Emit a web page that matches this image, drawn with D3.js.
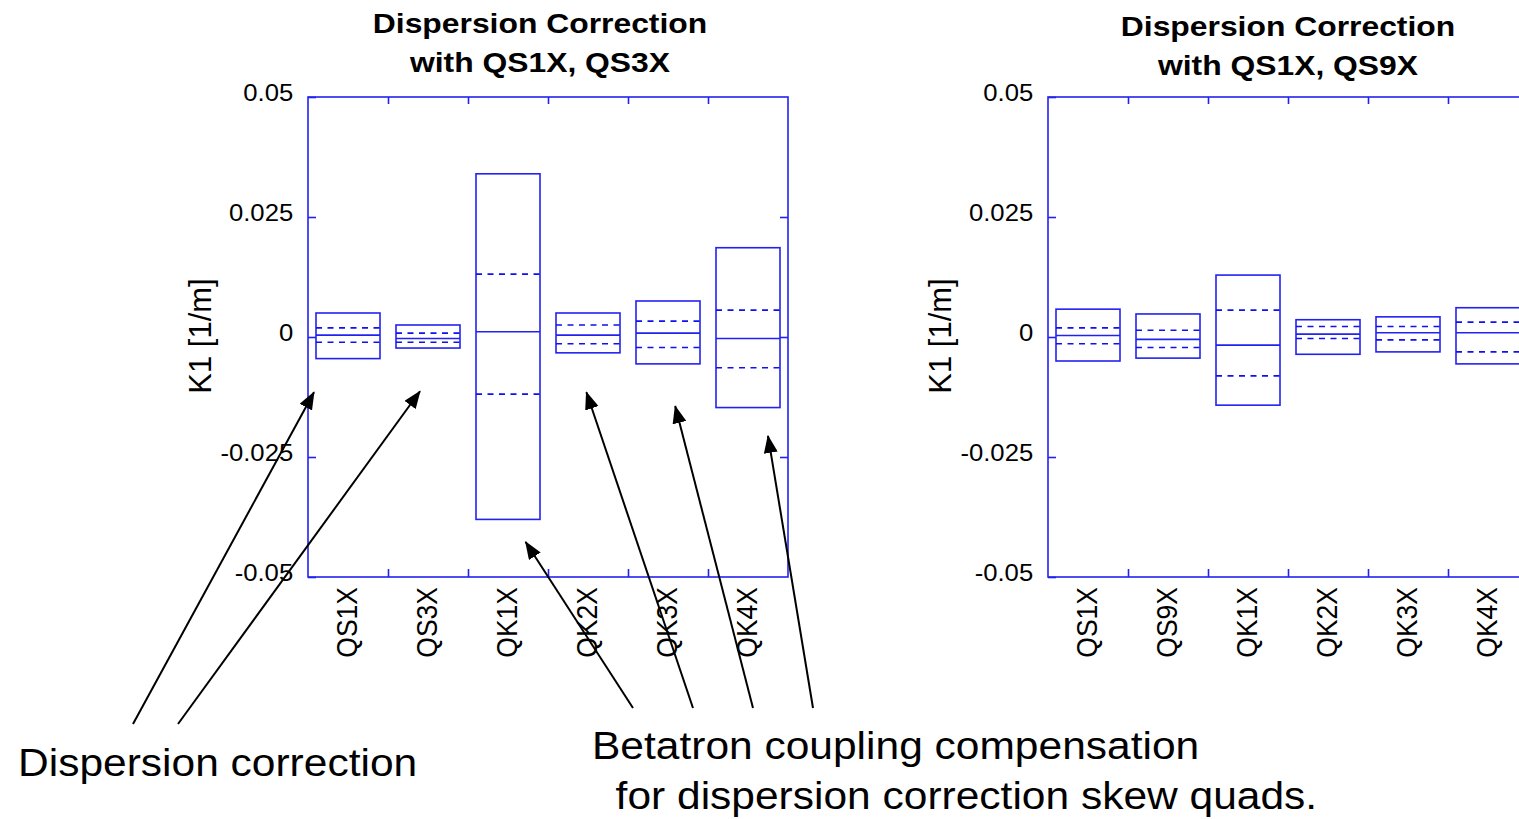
<!DOCTYPE html>
<html>
<head>
<meta charset="utf-8">
<script src="https://cdn.jsdelivr.net/npm/d3@7"></script>
<style>
  html, body { margin: 0; padding: 0; background: #ffffff; overflow: hidden; }
  svg { display: block; }
  text { font-family: "Liberation Sans", Arial, Helvetica, sans-serif; fill: #000; }
</style>
</head>
<body>
<div id="chart"></div>
<script>
// ---------------- DATA ----------------
const leftTitle = ["Dispersion Correction", "with QS1X, QS3X"];
const leftCats  = ["QS1X", "QS3X", "QK1X", "QK2X", "QK3X", "QK4X"];
const leftMax   = [0.0050, 0.0025, 0.0340, 0.0050, 0.0075, 0.0186];
const leftUpper = [0.0019, 0.0008, 0.0131, 0.0025, 0.0033, 0.0056];
const leftMid   = [0.0004, -0.0003, 0.0011, 0.0004, 0.0008, -0.0003];
const leftLower = [-0.0011, -0.0011, -0.0119, -0.0014, -0.0022, -0.0064];
const leftMin   = [-0.0045, -0.0023, -0.0380, -0.0033, -0.0056, -0.0147];

const rightTitle = ["Dispersion Correction", "with QS1X, QS9X"];
const rightCats  = ["QS1X", "QS9X", "QK1X", "QK2X", "QK3X", "QK4X"];
const rightMax   = [0.0058, 0.0048, 0.0129, 0.0036, 0.0042, 0.0061];
const rightUpper = [0.0019, 0.0014, 0.0056, 0.0022, 0.0022, 0.0031];
const rightMid   = [0.0003, -0.0005, -0.0017, 0.0006, 0.0009, 0.0009];
const rightLower = [-0.0014, -0.0022, -0.0081, -0.0003, -0.0006, -0.0031];
const rightMin   = [-0.0050, -0.0044, -0.0142, -0.0036, -0.0031, -0.0056];

const yDomain     = [-0.05, 0.05];
const yTickValues = [0.05, 0.025, 0, -0.025, -0.05];
const yTickLabels = ["0.05", "0.025", "0", "-0.025", "-0.05"];
const yLabel      = "K1 [1/m]";

// annotation arrows: target = (chart, category, fraction across band, value)
const arrowChart = ["L", "L", "L", "L", "L", "L"];
const arrowCat   = ["QS1X", "QS3X", "QK1X", "QK2X", "QK3X", "QK4X"];
const arrowFrac  = [0.075, 0.40, 0.72, 0.48, 0.59, 0.75];
const arrowVal   = [-0.0115, -0.0113, -0.0427, -0.0115, -0.0144, -0.0206];
const arrowGroup = [0, 0, 1, 1, 1, 1];
const noteLines  = [["Dispersion correction"],
                    ["Betatron coupling compensation", "  for dispersion correction skew quads."]];

// ---------------- LAYOUT ----------------
const W = 1519, H = 819;
const blue = "#2222f0";
const FONT = '"Liberation Sans", Arial, Helvetica, sans-serif';

const svg = d3.select("#chart").append("svg")
  .attr("width", W).attr("height", H)
  .attr("viewBox", `0 0 ${W} ${H}`);

svg.append("defs").append("marker")
  .attr("id", "ahead")
  .attr("markerUnits", "userSpaceOnUse")
  .attr("viewBox", "0 0 18 14")
  .attr("markerWidth", 18).attr("markerHeight", 14)
  .attr("refX", 17).attr("refY", 7)
  .attr("orient", "auto")
  .append("path").attr("d", "M0,0 L18,7 L0,14 Z").attr("fill", "#000");

function stretchedText(g, x, y, str, size, sx, weight, anchor) {
  return g.append("text")
    .attr("transform", `translate(${x},${y}) scale(${sx},1)`)
    .attr("text-anchor", anchor || "start")
    .style("font-size", size + "px")
    .style("font-weight", weight || "normal")
    .text(str);
}

const charts = [
  { id: "L", left: 308, title: leftTitle, titleDx: -8, titleY: 33, cats: leftCats,
    max: leftMax, up: leftUpper, mid: leftMid, lo: leftLower, min: leftMin, labelX: 211 },
  { id: "R", left: 1048, title: rightTitle, titleDx: 0, titleY: 36, cats: rightCats,
    max: rightMax, up: rightUpper, mid: rightMid, lo: rightLower, min: rightMin, labelX: 951 }
];
const plotW = 480, plotTop = 97, plotBottom = 577;
const scales = {};

charts.forEach(c => {
  const x0 = c.left, x1 = c.left + plotW;
  const y = d3.scaleLinear().domain(yDomain).range([plotBottom, plotTop]);
  const xb = d3.scaleBand().domain(c.cats).range([x0, x1]).padding(0);
  const xi = d3.scaleLinear().domain([0, c.cats.length]).range([x0, x1]);
  scales[c.id] = { y, xb };
  const g = svg.append("g");

  // title
  const tcx = (x0 + x1) / 2 + c.titleDx;
  stretchedText(g, tcx, c.titleY, c.title[0], 27, 1.18, "bold", "middle");
  stretchedText(g, tcx, c.titleY + 39, c.title[1], 27, 1.18, "bold", "middle");

  // left axis (ticks inward)
  const ax = g.append("g").attr("transform", `translate(${x0},0)`)
    .call(d3.axisLeft(y).tickValues(yTickValues)
      .tickFormat((d, i) => yTickLabels[i])
      .tickSizeInner(-8).tickSizeOuter(0).tickPadding(13));
  ax.select(".domain").remove();
  ax.selectAll(".tick line").attr("stroke", blue).attr("stroke-width", 1.6);
  ax.selectAll(".tick text")
    .attr("dy", "0.16em")
    .style("font-size", "24px").style("font-family", FONT).attr("fill", "#000")
    .attr("transform", function () {
      const xx = +d3.select(this).attr("x");
      return `translate(${xx * 0.07},0) scale(1.07,1)`;
    });

  // right axis (ticks inward)
  const axr = g.append("g").attr("transform", `translate(${x1},0)`)
    .call(d3.axisRight(y).tickValues([0.025, 0, -0.025])
      .tickFormat("").tickSizeInner(-8).tickSizeOuter(0));
  axr.select(".domain").remove();
  axr.selectAll(".tick line").attr("stroke", blue).attr("stroke-width", 1.6);

  // top & bottom ticks at band boundaries
  const bnd = d3.range(1, c.cats.length);
  const axt = g.append("g").attr("transform", `translate(0,${plotTop})`)
    .call(d3.axisTop(xi).tickValues(bnd).tickFormat("").tickSizeInner(-7).tickSizeOuter(0));
  axt.select(".domain").remove();
  axt.selectAll(".tick line").attr("stroke", blue).attr("stroke-width", 1.6);
  const axb = g.append("g").attr("transform", `translate(0,${plotBottom})`)
    .call(d3.axisBottom(xi).tickValues(bnd).tickFormat("").tickSizeInner(-8).tickSizeOuter(0));
  axb.select(".domain").remove();
  axb.selectAll(".tick line").attr("stroke", blue).attr("stroke-width", 1.6);

  // category labels (rotated)
  const axc = g.append("g").attr("transform", `translate(0,${plotBottom})`)
    .call(d3.axisBottom(xb).tickSize(0).tickPadding(0));
  axc.select(".domain").remove();
  axc.selectAll(".tick text")
    .attr("x", 0).attr("y", 0).attr("dy", 0)
    .attr("text-anchor", "end")
    .attr("transform", "translate(9,10) rotate(-90) scale(1,1.08)")
    .style("font-size", "26.5px").style("font-family", FONT).attr("fill", "#000");

  // plot frame
  g.append("rect").attr("x", x0).attr("y", plotTop)
    .attr("width", plotW).attr("height", plotBottom - plotTop)
    .attr("fill", "none").attr("stroke", blue).attr("stroke-width", 1.6);

  // y label
  g.append("text")
    .attr("transform", `translate(${c.labelX},${(plotTop + plotBottom) / 2 - 1}) rotate(-90)`)
    .attr("text-anchor", "middle")
    .style("font-size", "31px")
    .text(yLabel);

  // boxes
  const bw = xb.bandwidth() * 0.8;
  const data = c.cats.map((k, i) => ({ k, max: c.max[i], up: c.up[i], mid: c.mid[i], lo: c.lo[i], min: c.min[i] }));
  const bx = g.append("g").selectAll("g").data(data).join("g")
    .attr("transform", d => `translate(${xb(d.k) + (xb.bandwidth() - bw) / 2},0)`);
  bx.append("rect")
    .attr("x", 0).attr("width", bw)
    .attr("y", d => y(d.max)).attr("height", d => y(d.min) - y(d.max))
    .attr("fill", "none").attr("stroke", blue).attr("stroke-width", 1.6);
  bx.append("line").attr("x1", 0).attr("x2", bw)
    .attr("y1", d => y(d.mid)).attr("y2", d => y(d.mid))
    .attr("stroke", blue).attr("stroke-width", 1.6);
  ["up", "lo"].forEach(key => {
    bx.append("line").attr("x1", 0).attr("x2", bw)
      .attr("y1", d => y(d[key])).attr("y2", d => y(d[key]))
      .attr("stroke", "#1010f0").attr("stroke-width", 1.6)
      .attr("stroke-dasharray", "6,5.5");
  });
});

// ---------------- ANNOTATIONS ----------------
const noteG = svg.append("g");
const notePos = [{ x: 18, y: 776, tails: [133, 178], tailY: 724 },
                 { x: 592, y: 759, tails: [633, 693, 753, 813], tailY: 708 }];
noteLines.forEach((lines, gi) => {
  lines.forEach((s, li) => {
    stretchedText(noteG, notePos[gi].x, notePos[gi].y + li * 50, s, 39, 1.09, "normal", "start")
      .style("white-space", "pre").attr("xml:space", "preserve");
  });
});
const tailCount = [0, 0];
arrowCat.forEach((cat, i) => {
  const s = scales[arrowChart[i]];
  const tx = s.xb(cat) + arrowFrac[i] * s.xb.bandwidth();
  const ty = s.y(arrowVal[i]);
  const gi = arrowGroup[i];
  const sx = notePos[gi].tails[tailCount[gi]++];
  noteG.append("line")
    .attr("x1", sx).attr("y1", notePos[gi].tailY)
    .attr("x2", tx).attr("y2", ty)
    .attr("stroke", "#000").attr("stroke-width", 2)
    .attr("marker-end", "url(#ahead)");
});
</script>
</body>
</html>
